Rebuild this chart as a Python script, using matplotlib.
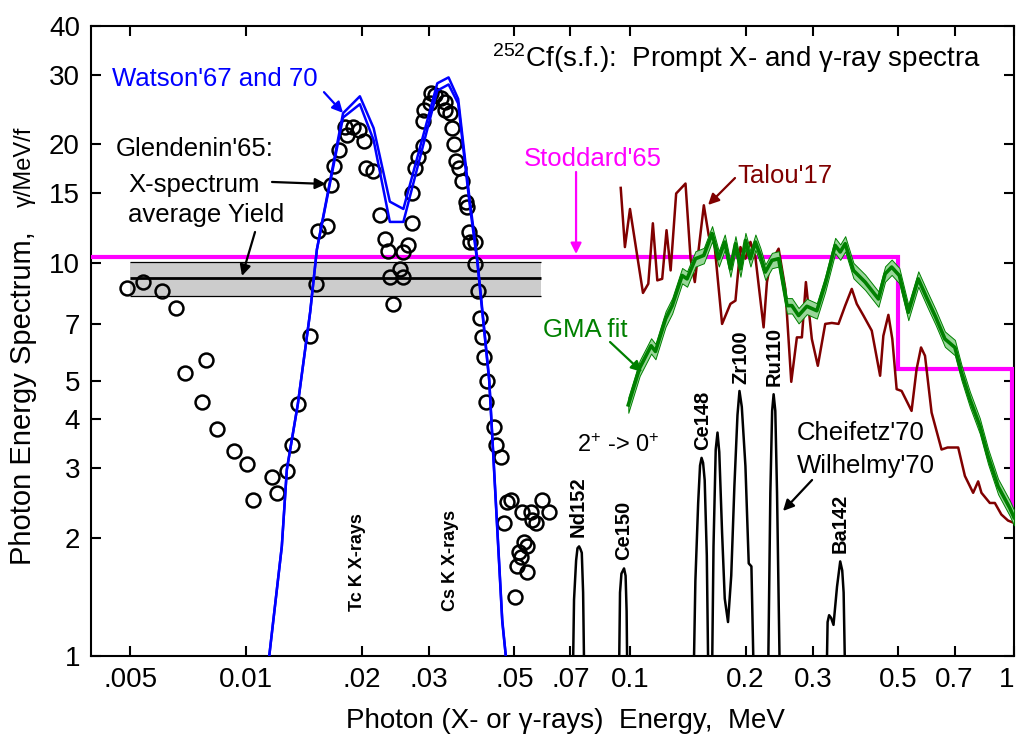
#!/usr/bin/env python3
"""
252Cf(s.f.) prompt X- and gamma-ray spectra on a log-log plot:
Glendenin'65 points, Watson'67/70, Stoddard'65, Talou'17, GMA fit and
Cheifetz'70 / Wilhelmy'70 2+ -> 0+ lines.
"""

import matplotlib
matplotlib.use('Agg')
import matplotlib.pyplot as plt
from matplotlib.ticker import NullLocator

plt.rcParams['font.family'] = ['Liberation Sans', 'DejaVu Sans']
plt.rcParams['mathtext.fontset'] = 'custom'
plt.rcParams['mathtext.rm'] = 'Liberation Sans'
plt.rcParams['mathtext.it'] = 'Liberation Sans:italic'
plt.rcParams['mathtext.bf'] = 'Liberation Sans:bold'

# Glendenin'65 measured points (energy MeV, gamma/MeV/f)
glend_e = [0.00491, 0.0054, 0.00605, 0.00658, 0.00695, 0.00787, 0.00769, 0.00841, 0.00931, 0.01006,
           0.01043, 0.01168, 0.01204, 0.01278, 0.01317, 0.01365, 0.01466, 0.0152, 0.01538, 0.01622,
           0.01663, 0.01693, 0.01745, 0.01828, 0.01807, 0.01897, 0.01966, 0.02026, 0.02051, 0.02138,
           0.02228, 0.02296, 0.02339, 0.02366, 0.0241, 0.02512, 0.02557, 0.02557, 0.0265, 0.027,
           0.027, 0.02748, 0.028, 0.02884, 0.02884, 0.02917, 0.03006, 0.0304, 0.031, 0.0323,
           0.0329, 0.0329, 0.0339, 0.0345, 0.0349, 0.0353, 0.0359, 0.0366, 0.0375, 0.0377,
           0.038, 0.0384, 0.0394, 0.0394, 0.0401, 0.0407, 0.0413, 0.0418, 0.0425, 0.0423,
           0.0443, 0.0449, 0.0462, 0.0479, 0.0491, 0.0471, 0.0524, 0.0553, 0.0556, 0.057,
           0.0591, 0.0616, 0.0531, 0.054, 0.0515, 0.0521, 0.0509, 0.054, 0.0503]
glend_y = [8.63, 8.94, 8.48, 7.68, 5.24, 5.66, 4.42, 3.77, 3.33, 3.07,
           2.49, 2.86, 2.59, 2.96, 3.45, 4.37, 6.51, 8.84, 12.07, 12.43,
           15.8, 17.6, 19.3, 21.1, 22.2, 22.2, 21.7, 20.4, 17.4, 17.1,
           13.2, 11.5, 10.7, 9.21, 7.86, 9.66, 9.21, 10.67, 11.1, 12.6,
           15.0, 17.4, 18.6, 19.8, 22.9, 24.4, 25.5, 27.0, 26.7, 26.2,
           25.7, 24.4, 24.0, 22.0, 20.1, 18.1, 17.4, 16.1, 14.3, 13.9,
           12.0, 11.3, 11.3, 9.94, 8.48, 7.24, 6.48, 5.76, 5.00, 4.42,
           3.82, 3.45, 3.20, 2.47, 2.50, 2.18, 2.33, 2.33, 2.22, 2.18,
           2.50, 2.33, 1.95, 1.90, 1.84, 1.79, 1.69, 1.64, 1.41]

# Glendenin'65 average X-spectrum yield band
band_e = [0.005, 0.0587]
band_lo = 8.24
band_mid = 9.14
band_hi = 10.06

# Watson'67 and '70 curves
watson_e = [0.0115, 0.0124, 0.01278, 0.01365, 0.0147, 0.0153, 0.0179, 0.0198, 0.0215, 0.0237,
            0.0257, 0.0315, 0.0337, 0.0357, 0.0382, 0.0400, 0.0430, 0.0465, 0.0475]
watson_a = [1.0, 1.9, 2.98, 4.37, 7.5, 10.8, 24.0, 26.5, 22.0, 14.3,
            13.7, 28.6, 29.6, 26.1, 14.6, 10.3, 5.06, 1.235, 1.0]
watson_b = [1.0, 1.9, 2.98, 4.37, 7.5, 10.8, 23.4, 25.3, 20.5, 12.7,
            12.7, 27.4, 28.4, 25.4, 14.2, 10.1, 5.0, 1.22, 1.0]

# Stoddard'65 histogram
stod_edges = [0.00395, 0.5, 0.99]
stod_vals = [10.36, 5.37]
stod_end = 2.40

# Talou'17
talou_e = [0.0946, 0.0970, 0.1000, 0.1081, 0.1116, 0.1147, 0.1178, 0.1213, 0.1245, 0.1276,
           0.1319, 0.1395, 0.1438, 0.1475, 0.1557, 0.1604, 0.1653, 0.1737, 0.1826, 0.1882,
           0.1939, 0.1998, 0.2059, 0.2121, 0.2228, 0.2273, 0.2320, 0.2438, 0.2538, 0.2630,
           0.2720, 0.2803, 0.2871, 0.2975, 0.3084, 0.3224, 0.3354, 0.3491, 0.3634, 0.3780,
           0.3895, 0.4054, 0.4261, 0.4480, 0.4568, 0.4708, 0.4820, 0.4947, 0.5097, 0.5410,
           0.5575, 0.5726, 0.5864, 0.6100, 0.6475, 0.6713, 0.6874, 0.7155, 0.7448, 0.7826,
           0.8065, 0.8226, 0.8649, 0.8914, 0.9268, 0.9647, 1.0]
talou_y = [15.5, 10.96, 13.7, 8.38, 8.84, 12.6, 9.02, 9.10, 12.1, 9.56,
           15.0, 15.9, 10.24, 8.93, 14.0, 11.7, 11.6, 6.99, 7.86, 8.01,
           10.96, 10.24, 11.3, 10.34, 6.85, 8.93, 9.94, 10.86, 8.58, 4.98,
           6.46, 6.46, 8.93, 6.40, 5.47, 6.99, 7.03, 6.99, 7.78, 8.58,
           7.86, 7.34, 6.72, 5.16, 6.52, 7.37, 6.40, 4.77, 4.72, 4.20,
           5.36, 6.09, 5.80, 4.16, 3.35, 3.39, 3.39, 3.39, 2.87, 2.60,
           2.78, 2.60, 2.45, 2.45, 2.29, 2.21, 2.18]

# GMA fit and its uncertainty (relative)
gma_e = [0.0990, 0.1060, 0.1135, 0.1165, 0.1238, 0.1288, 0.1367, 0.1408, 0.1481, 0.1557,
         0.1636, 0.1703, 0.1765, 0.1826, 0.1882, 0.1939, 0.1998, 0.2059, 0.2121, 0.2185,
         0.2251, 0.2342, 0.2438, 0.2563, 0.2640, 0.2748, 0.2887, 0.3066, 0.3224, 0.3422,
         0.3527, 0.3634, 0.3818, 0.4095, 0.4435, 0.4616, 0.4801, 0.5027, 0.5305, 0.5632,
         0.5943, 0.6252, 0.6607, 0.7015, 0.7297, 0.7674, 0.8145, 0.8560, 0.9088, 0.9746, 1.0]
gma_y = [4.35, 5.4, 6.15, 5.95, 7.20, 7.78, 9.28, 9.10, 10.24, 10.44,
         11.86, 10.24, 11.29, 9.65, 11.18, 9.65, 11.40, 10.24, 11.29, 10.44,
         9.47, 10.14, 10.24, 7.78, 7.78, 7.34, 7.75, 7.55, 8.84, 11.07,
         10.65, 11.18, 9.56, 8.93, 8.09, 9.37, 9.75, 9.28, 7.48, 9.10,
         8.09, 7.27, 6.40, 6.09, 5.26, 4.50, 3.85, 3.22, 2.70, 2.38, 2.25]
gma_err = 0.045

# Cheifetz'70 / Wilhelmy'70 2+ -> 0+ lines (drops below the axis between peaks)
chf_e = [0.0704, 0.0715, 0.0724, 0.0730, 0.0737, 0.0743, 0.0749, 0.0755, 0.0766,
         0.0930, 0.0942, 0.0950, 0.0965, 0.0974, 0.0980, 0.0990,
         0.1450, 0.1480, 0.1505, 0.1522, 0.1536, 0.1550, 0.1565, 0.1585, 0.1611,
         0.1625, 0.1650, 0.1672, 0.1690, 0.1708, 0.1737, 0.1765, 0.1800, 0.1835, 0.1870,
         0.1905, 0.1928, 0.1955, 0.1998, 0.2038, 0.2071, 0.2125,
         0.2273, 0.2320, 0.2345, 0.2366, 0.2390, 0.2415, 0.2477,
         0.3220, 0.3270, 0.3300, 0.3340, 0.3388, 0.3460, 0.3527, 0.3570, 0.3600, 0.3670]
chf_y = [0.5, 1.39, 1.75, 1.88, 1.90, 1.87, 1.83, 1.45, 0.5,
         0.5, 1.45, 1.62, 1.67, 1.60, 1.30, 0.5,
         0.5, 1.55, 2.45, 3.05, 3.19, 3.10, 2.80, 1.80, 0.5,
         0.5, 1.9, 3.35, 3.70, 3.30, 2.06, 1.40, 1.22, 1.60, 2.70,
         4.10, 4.72, 4.30, 3.04, 1.72, 1.69, 0.5,
         0.5, 2.60, 4.20, 4.63, 4.20, 2.60, 0.5,
         0.5, 1.22, 1.27, 1.25, 1.20, 1.50, 1.74, 1.65, 1.45, 0.5]

# Axis ticks
xtick_vals = [0.005, 0.01, 0.02, 0.03, 0.05, 0.07, 0.1, 0.2, 0.3, 0.5, 0.7, 1]
xtick_labels = ['.005', '0.01', '.02', '.03', '.05', '.07', '0.1', '0.2', '0.3', '0.5', '0.7', '1']
ytick_vals = [1, 2, 3, 4, 5, 7, 10, 15, 20, 30, 40]
ytick_labels = ['1', '2', '3', '4', '5', '7', '10', '15', '20', '30', '40']

# Colours
c_blue = '#0000ff'
c_mag = '#ff00ff'
c_red = '#800000'
c_green = '#008000'
c_band_green = '#99d699'

fig = plt.figure(figsize=(10.18, 7.40), dpi=100)
ax = fig.add_axes([0.0894, 0.1135, 0.9067, 0.8514])
ax.set_xscale('log')
ax.set_yscale('log')
ax.set_xlim(0.00395, 1.0)
ax.set_ylim(1, 40)

# Glendenin band
ax.fill_between(band_e, band_lo, band_hi, color='#cccccc', lw=0, zorder=1)
ax.hlines([band_lo, band_hi], band_e[0], band_e[1], color='black', lw=0.9, zorder=2)
ax.hlines(band_mid, band_e[0], band_e[1], color='black', lw=2.0, zorder=2)

# Stoddard histogram
sx = [stod_edges[0], stod_edges[1], stod_edges[1], stod_edges[2], stod_edges[2]]
sy = [stod_vals[0], stod_vals[0], stod_vals[1], stod_vals[1], stod_end]
ax.plot(sx, sy, color=c_mag, lw=3.0, zorder=3, solid_joinstyle='miter')

# Talou
ax.plot(talou_e, talou_y, color=c_red, lw=1.8, zorder=4)

# GMA fit with band
lo = [v * (1 - gma_err) for v in gma_y]
hi = [v * (1 + gma_err) for v in gma_y]
ax.fill_between(gma_e, lo, hi, facecolor=c_band_green, edgecolor=c_green, lw=0.7, zorder=5)
ax.plot(gma_e, gma_y, color=c_green, lw=2.6, zorder=6)

# Cheifetz / Wilhelmy
ax.plot(chf_e, chf_y, color='black', lw=1.8, zorder=6)

# Glendenin points
ax.plot(glend_e, glend_y, 'o', ms=10, mfc='none', mec='black', mew=1.8, zorder=7)

# Watson
ax.plot(watson_e, watson_a, color=c_blue, lw=1.8, zorder=8)
ax.plot(watson_e, watson_b, color=c_blue, lw=1.8, zorder=8)

# Axes, ticks
ax.set_xticks(xtick_vals)
ax.set_xticklabels(xtick_labels)
ax.set_yticks(ytick_vals)
ax.set_yticklabels(ytick_labels)
ax.xaxis.set_minor_locator(NullLocator())
ax.yaxis.set_minor_locator(NullLocator())
ax.tick_params(which='major', direction='in', top=True, right=True, length=7, width=1.5,
               labelsize=20, pad=8)
ax.get_xticklabels()[-1].set_horizontalalignment('right')
for sp in ax.spines.values():
    sp.set_linewidth(1.5)

# Axis labels
ax.text(0.5135, -0.1143, 'Photon (X- or γ-rays)  Energy,  MeV', transform=ax.transAxes,
        ha='center', va='baseline', fontsize=20)
fig.text(0.0305, 0.2365, 'Photon Energy Spectrum,', rotation=90, rotation_mode='anchor',
         ha='left', va='baseline', fontsize=21)
fig.text(0.0305, 0.72, 'γ/MeV/f', rotation=90, rotation_mode='anchor',
         ha='left', va='baseline', fontsize=17)

# Title
ax.text(0.964, 0.949, '$^{252}$Cf(s.f.):  Prompt X- and γ-ray spectra', transform=ax.transAxes,
        ha='right', va='center', fontsize=20)


def arrow(x0, y0, x1, y1, color):
    ax.annotate('', xy=(x1, y1), xytext=(x0, y0), xycoords='axes fraction',
                textcoords='axes fraction',
                arrowprops=dict(arrowstyle='-|>', color=color, lw=1.6, mutation_scale=16,
                                shrinkA=0, shrinkB=0), zorder=9)


# Annotations
ax.text(0.0228, 0.9048, "Watson'67 and 70", transform=ax.transAxes, color=c_blue,
        ha='left', va='baseline', fontsize=18.5)
arrow(0.2524, 0.895, 0.273, 0.862, c_blue)

ax.text(0.0271, 0.7937, "Glendenin'65:", transform=ax.transAxes, ha='left', va='baseline', fontsize=18.5)
ax.text(0.0401, 0.7365, 'X-spectrum', transform=ax.transAxes, ha='left', va='baseline', fontsize=18.5)
ax.text(0.0401, 0.6889, 'average Yield', transform=ax.transAxes, ha='left', va='baseline', fontsize=18.5)
arrow(0.1961, 0.7524, 0.2546, 0.7492, 'black')
arrow(0.1777, 0.673, 0.1636, 0.6032, 'black')

ax.text(0.4691, 0.7778, "Stoddard'65", transform=ax.transAxes, color=c_mag,
        ha='left', va='baseline', fontsize=18.5)
arrow(0.5255, 0.7683, 0.5255, 0.6381, c_mag)

ax.text(0.6999, 0.7508, "Talou'17", transform=ax.transAxes, color=c_red,
        ha='left', va='baseline', fontsize=18.5)
arrow(0.6977, 0.7587, 0.6685, 0.7159, c_red)

ax.text(0.4897, 0.5063, 'GMA fit', transform=ax.transAxes, color=c_green,
        ha='left', va='baseline', fontsize=18.5)
arrow(0.5623, 0.4984, 0.597, 0.4508, c_green)

ax.text(0.5265, 0.3238, '2$^{+}$ -> 0$^{+}$', transform=ax.transAxes,
        ha='left', va='baseline', fontsize=17)
ax.text(0.7649, 0.3429, "Cheifetz'70", transform=ax.transAxes, ha='left', va='baseline', fontsize=18.5)
ax.text(0.7649, 0.2905, "Wilhelmy'70", transform=ax.transAxes, ha='left', va='baseline', fontsize=18.5)
arrow(0.7812, 0.2794, 0.7497, 0.2302, 'black')

# Rotated peak labels
peak_labels = [('Tc K X-rays', 0.2882, 0.1492, 13), ('Cs K X-rays', 0.39, 0.1524, 13),
               ('Nd152', 0.5276, 0.2365, 14.5), ('Ce150', 0.5775, 0.2, 14.5),
               ('Ce148', 0.663, 0.3746, 14.5), ('Zr100', 0.7042, 0.4746, 14.5),
               ('Ru110', 0.74, 0.4762, 14.5), ('Ba142', 0.8115, 0.2111, 14.5)]
for txt, fx, fy, fs in peak_labels:
    ax.text(fx, fy, txt, transform=ax.transAxes, rotation=90, ha='center', va='center',
            fontsize=fs, fontweight='bold')

fig.savefig('out.png', dpi=100)
